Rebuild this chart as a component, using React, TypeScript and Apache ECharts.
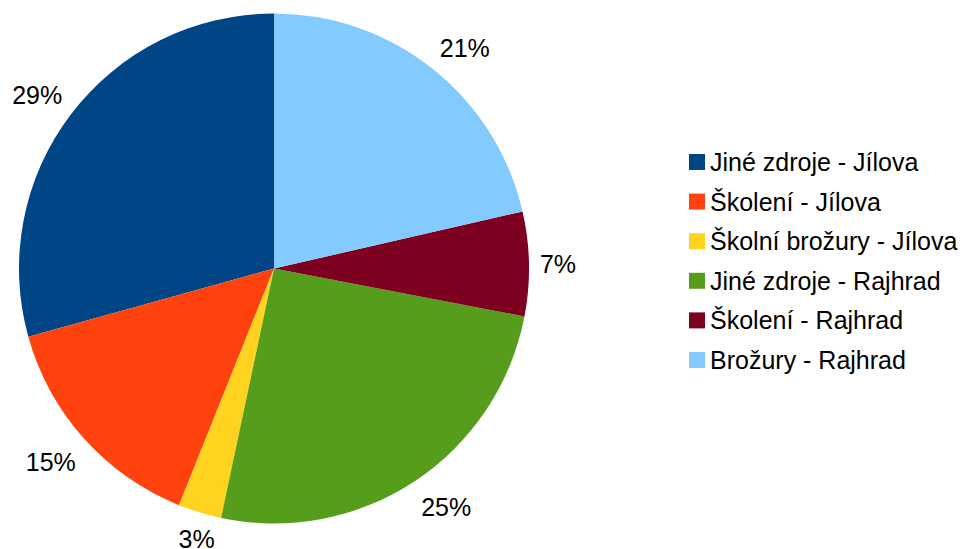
import React, { useEffect, useRef } from "react";
import * as echarts from "echarts";

const categories = [
  "Jiné zdroje - Jílova",
  "Školení - Jílova",
  "Školní brožury - Jílova",
  "Jiné zdroje - Rajhrad",
  "Školení - Rajhrad",
  "Brožury - Rajhrad",
];
const values = [29.3, 14.6, 2.75, 25.3, 6.6, 21.4];
const colors = ["#004586", "#ff420e", "#ffd320", "#579d1c", "#7e0021", "#83caff"];

const CX = 274;
const CY = 268.5;
const R = 255;
const GAP = 11;

export default function App() {
  const ref = useRef<HTMLDivElement>(null);
  useEffect(() => {
    if (!ref.current) return;
    const chart = echarts.init(ref.current, undefined, { renderer: "svg" });
    const total = values.reduce((a, b) => a + b, 0);
    const cum: number[] = [];
    let s = 0;
    values.forEach((v) => {
      cum.push(s);
      s += v;
    });
    const lim = Math.cos((67.5 * Math.PI) / 180);
    chart.setOption({
      animation: false,
      color: colors,
      legend: {
        orient: "vertical",
        left: 684,
        top: 144,
        itemWidth: 16,
        itemHeight: 16,
        itemGap: 13.6,
        icon: "rect",
        textStyle: {
          fontFamily: "Liberation Sans",
          fontSize: 25,
          color: "#000",
          lineHeight: 26,
          padding: [0, 0, 0, 0],
        },
        data: categories,
      },
      series: [
        {
          type: "pie",
          center: [CX, CY],
          radius: R,
          startAngle: 90,
          clockwise: false,
          avoidLabelOverlap: false,
          label: {
            show: true,
            position: "outside",
            fontFamily: "Liberation Sans",
            fontSize: 25,
            color: "#000",
            formatter: (p: any) => Math.round(p.percent) + "%",
          },
          labelLine: { show: false },
          labelLayout: (p: any) => {
            const i = p.dataIndex;
            const mid = ((cum[i] + values[i] / 2) / total) * 2 * Math.PI + Math.PI / 2;
            const c = Math.cos(mid);
            const sn = Math.sin(mid);
            const d = R + GAP;
            const align = c > lim ? "left" : c < -lim ? "right" : "center";
            const verticalAlign = sn > lim ? "bottom" : sn < -lim ? "top" : "middle";
            return {
              x: CX + d * c,
              y: CY - d * sn + (verticalAlign === "top" ? 4 : 0),
              align,
              verticalAlign,
            };
          },
          itemStyle: { borderWidth: 0 },
          emphasis: { disabled: true },
          data: categories.map((n, i) => ({ name: n, value: values[i] })),
        },
      ],
    });
    return () => chart.dispose();
  }, []);
  return (
    <div
      ref={ref}
      style={{ position: "absolute", left: 0, top: 0, width: 963, height: 549 }}
    />
  );
}
